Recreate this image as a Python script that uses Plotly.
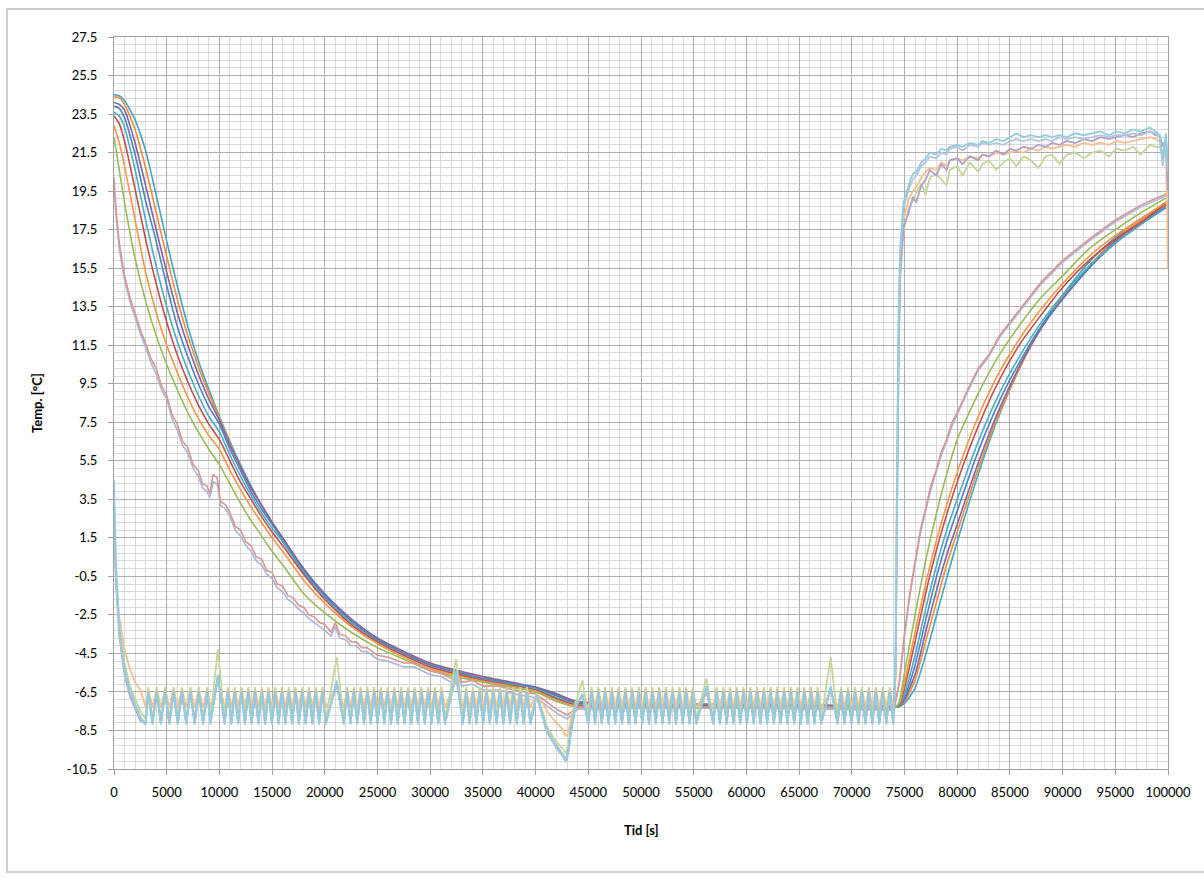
import plotly.graph_objects as go

# ---------------- product sensor curves (shared time base, s) ----------------
t_s = [0, 500, 1000, 2000, 3000, 4000, 5000, 6000, 7000, 8000, 9000, 10000,
       11000, 12000, 13000, 14000, 15000, 16000, 18000, 20000, 22500, 25000,
       27500, 30000, 35000, 40000, 42000, 44000, 50000, 60000, 70000, 74000,
       74500, 75000, 76000, 77000, 78000, 79000, 80000, 82000, 84000, 86000,
       88000, 90000, 92500, 95000, 97500, 100000]

s_green = [22.3, 20.6, 18.9, 16.0, 13.8, 12.0, 10.5, 9.2, 8.0, 7.0, 6.1, 5.3,
           4.3, 3.3, 2.4, 1.6, 0.8, 0.1, -1.4, -2.4, -3.4, -4.2, -4.8, -5.4,
           -6.0, -6.5, -7.0, -7.3, -7.3, -7.3, -7.3, -7.35, -7.0, -5.5, -2.5,
           0.3, 2.7, 4.8, 6.6, 9.0, 11.0, 12.6, 14.0, 15.1, 16.5, 17.5, 18.4, 19.2]
s_orange = [22.9, 22.0, 20.8, 18.0, 15.3, 13.2, 11.5, 10.1, 8.8, 7.7, 6.8, 6.1,
            5.0, 4.0, 3.1, 2.3, 1.5, 0.8, -0.7, -1.9, -3.1, -4.0, -4.7, -5.3,
            -5.95, -6.45, -6.95, -7.25, -7.3, -7.3, -7.3, -7.3, -7.1, -6.0, -3.4,
            -0.9, 1.3, 3.2, 4.9, 7.8, 10.1, 11.9, 13.4, 14.7, 16.1, 17.2, 18.1, 19.0]
s_red = [23.4, 23.0, 22.1, 19.6, 17.0, 14.7, 12.7, 11.0, 9.6, 8.4, 7.4, 6.6,
         5.5, 4.4, 3.5, 2.6, 1.8, 1.1, -0.4, -1.7, -3.0, -3.9, -4.6, -5.2,
         -5.9, -6.4, -6.85, -7.2, -7.25, -7.25, -7.3, -7.3, -7.15, -6.3, -3.9,
         -1.4, 0.8, 2.7, 4.4, 7.3, 9.7, 11.6, 13.1, 14.5, 15.9, 17.0, 17.9, 18.95]
s_cyan = [23.6, 23.4, 22.8, 20.6, 18.0, 15.6, 13.5, 11.7, 10.2, 8.9, 7.8, 7.0,
          5.8, 4.7, 3.7, 2.8, 2.0, 1.3, -0.3, -1.6, -2.9, -3.9, -4.6, -5.2,
          -5.85, -6.35, -6.8, -7.15, -7.2, -7.25, -7.3, -7.3, -7.2, -6.6, -4.6,
          -2.2, 0.0, 1.9, 3.5, 6.5, 9.0, 11.0, 12.7, 14.1, 15.6, 16.8, 17.8, 18.75]
s_blue = [23.9, 23.8, 23.3, 21.4, 19.0, 16.9, 14.6, 12.5, 10.9, 9.5, 8.3, 7.4,
          6.1, 5.0, 3.9, 3.0, 2.2, 1.4, -0.2, -1.5, -2.8, -3.8, -4.5, -5.1,
          -5.8, -6.3, -6.7, -7.1, -7.2, -7.2, -7.25, -7.3, -7.25, -6.8, -5.1,
          -2.8, -0.6, 1.3, 2.9, 6.0, 8.6, 10.7, 12.5, 13.9, 15.5, 16.8, 17.8, 18.7]
s_purple = [24.1, 24.0, 23.7, 22.0, 19.8, 17.5, 15.3, 13.2, 11.5, 10.0, 8.7, 7.6,
            6.3, 5.2, 4.1, 3.2, 2.3, 1.5, -0.1, -1.4, -2.7, -3.7, -4.4, -5.0,
            -5.7, -6.25, -6.6, -7.0, -7.1, -7.15, -7.2, -7.25, -7.25, -6.9, -5.6,
            -3.4, -1.3, 0.6, 2.2, 5.4, 8.2, 10.5, 12.4, 13.9, 15.5, 16.9, 17.9, 18.75]
s_orange2 = [24.4, 24.35, 24.0, 22.7, 20.7, 18.4, 16.1, 13.9, 12.0, 10.4, 9.0, 7.7,
             6.4, 5.2, 4.1, 3.2, 2.3, 1.5, -0.15, -1.45, -2.75, -3.75, -4.45, -5.05,
             -5.75, -6.3, -6.65, -7.05, -7.15, -7.2, -7.25, -7.25, -7.25, -7.0, -5.9,
             -3.9, -1.9, 0.1, 1.8, 5.1, 8.0, 10.4, 12.4, 14.0, 15.6, 17.0, 18.0, 18.85]
s_teal = [24.5, 24.45, 24.2, 23.2, 21.6, 19.3, 16.9, 14.6, 12.5, 10.7, 9.2, 7.8,
          6.5, 5.3, 4.2, 3.2, 2.3, 1.5, -0.2, -1.5, -2.8, -3.8, -4.5, -5.1,
          -5.8, -6.3, -6.7, -7.1, -7.15, -7.2, -7.25, -7.25, -7.25, -7.1, -6.3,
          -4.6, -2.6, -0.6, 1.3, 4.8, 7.9, 10.4, 12.5, 14.1, 15.8, 17.1, 18.1, 18.8]

smooth_series = [s_teal, s_orange2, s_purple, s_blue, s_cyan, s_red, s_orange, s_green]
smooth_colors = ["#43A5C2", "#F28B3C", "#8064A2", "#4F81BD", "#4BACC6",
                 "#C0504D", "#F79646", "#9BBB59"]

# ---------------- surface sensors (faster response, ripple from the compressor) ----------------
t_p = [0, 200, 500, 1000, 1500, 2000, 2500, 3000, 3500, 4000, 4500, 5000, 5500,
       6000, 6500, 7000, 7500, 8000, 8400, 8800, 9100, 9400, 9800, 10100, 10600,
       11000, 11500, 12000, 12500, 13000, 13500, 14000, 14500, 15000, 15500,
       16000, 16500, 17000, 17500, 18000, 18500, 19000, 19500, 20000, 20600,
       21000, 21400, 22000, 22500, 23000, 23500, 24000, 25000, 26000, 27500,
       28500, 30000, 31000, 32000, 32500, 33000, 34000, 35000, 36500, 38000,
       40000, 42000, 43000, 44000, 50000, 60000, 70000, 74000, 74500, 75000,
       75500, 76000, 76500, 77000, 77500, 78000, 78500, 79000, 79500, 80000,
       81000, 82000, 83000, 84000, 86000, 88000, 90000, 92500, 95000, 97500, 100000]
p_pink = [20.2, 18.5, 16.8, 15.1, 14.0, 13.1, 12.3, 11.6, 10.8, 10.3, 9.4, 8.9,
          7.9, 7.4, 6.5, 6.2, 5.3, 5.0, 4.3, 4.2, 3.8, 4.8, 4.6, 3.4, 3.2,
          2.8, 2.1, 1.9, 1.3, 1.1, 0.5, 0.4, -0.2, -0.3, -0.9, -1.0, -1.5,
          -1.6, -2.0, -2.1, -2.5, -2.6, -2.9, -3.0, -3.4, -2.9, -3.5, -3.6,
          -3.9, -3.9, -4.2, -4.2, -4.6, -4.7, -5.0, -5.0, -5.4, -5.5, -5.8,
          -5.4, -6.0, -5.9, -6.2, -6.2, -6.4, -6.6, -7.4, -7.7, -7.3, -7.3,
          -7.3, -7.35, -7.4, -6.0, -3.5, -1.4, 0.3, 1.9, 3.0, 4.2, 5.0, 6.0,
          6.6, 7.5, 8.0, 9.2, 10.3, 11.0, 12.0, 13.4, 14.8, 15.9, 17.0, 18.0,
          18.8, 19.4]
p_lav = [19.8, 18.2, 16.5, 14.9, 13.8, 12.9, 12.1, 11.4, 10.6, 10.0, 9.2, 8.7,
         7.7, 7.1, 6.3, 5.9, 5.1, 4.7, 4.1, 3.9, 3.6, 4.4, 4.3, 3.2, 3.0,
         2.6, 1.9, 1.6, 1.1, 0.8, 0.3, 0.1, -0.4, -0.6, -1.1, -1.3, -1.7,
         -1.9, -2.2, -2.4, -2.7, -2.9, -3.1, -3.3, -3.6, -3.1, -3.7, -3.8,
         -4.1, -4.1, -4.4, -4.4, -4.8, -4.9, -5.2, -5.2, -5.6, -5.7, -6.0,
         -5.6, -6.2, -6.1, -6.4, -6.4, -6.6, -6.8, -7.6, -7.9, -7.4, -7.35,
         -7.35, -7.4, -7.45, -6.1, -3.6, -1.5, 0.2, 1.7, 2.9, 4.0, 4.9, 5.8,
         6.5, 7.3, 7.9, 9.1, 10.2, 10.9, 11.9, 13.3, 14.7, 15.8, 16.9, 17.9,
         18.7, 19.3]

# ---------------- air sensors ----------------
air_start_t = [0, 200, 500, 1000, 1500, 2000, 2500]

cyc_trough_t = [3000, 3650, 4450, 5250, 6050, 6850, 7650, 8450, 9150,
                10500, 11140, 11780, 12420, 13060, 13700, 14340, 14980, 15620,
                16260, 16900, 17540, 18180, 18820, 19460, 20100,
                21800, 22440, 23080, 23720, 24360, 25000, 25640, 26280, 26920,
                27560, 28200, 28840, 29480, 30120, 30760, 31400,
                33100, 33740, 34380, 35020, 35660, 36300, 36940, 37580, 38220,
                38860, 39500,
                45000, 45640, 46280, 46920, 47560, 48200, 48840, 49480, 50120,
                50760, 51400, 52040, 52680, 53320, 53960, 54600, 55240,
                56850, 57490, 58130, 58770, 59410, 60050, 60690, 61330, 61970,
                62610, 63250, 63890, 64530, 65170, 65810, 66450, 67090,
                68650, 69310, 69970, 70630, 71290, 71950, 72610, 73270, 73930]
cyc_peak_t = [3250, 4050, 4850, 5650, 6450, 7250, 8050, 8850,
              10820, 11460, 12100, 12740, 13380, 14020, 14660, 15300, 15940,
              16580, 17220, 17860, 18500, 19140, 19780,
              22120, 22760, 23400, 24040, 24680, 25320, 25960, 26600, 27240,
              27880, 28520, 29160, 29800, 30440, 31080,
              33420, 34060, 34700, 35340, 35980, 36620, 37260, 37900, 38540, 39180,
              45320, 45960, 46600, 47240, 47880, 48520, 49160, 49800, 50440,
              51080, 51720, 52360, 53000, 53640, 54280, 54920,
              57170, 57810, 58450, 59090, 59730, 60370, 61010, 61650, 62290,
              62930, 63570, 64210, 64850, 65490, 66130, 66770,
              68980, 69640, 70300, 70960, 71620, 72280, 72940, 73600]

defrost_t = [9850, 21130, 32450, 44450, 56200, 68000]
dip_t = [40100, 40600, 41000, 41500, 42000, 42500, 42900, 43100, 43400, 43800]
rise_t = [74150, 74300, 74450, 74600, 74900, 75400, 75800, 76100, 76600, 77000,
          77400, 78000, 78500, 79000, 79300, 80000, 80500, 81200, 82000, 82400,
          83000, 83700, 84400, 85000, 85600, 86300, 87000, 87700, 88400, 89000,
          89700, 90400, 91200, 92000, 92800, 93600, 94400, 95100, 95900, 96700,
          97400, 98300, 98800, 99200, 99500, 99800, 100000]

a_orange_start = [1.8, -0.8, -2.6, -4.3, -5.3, -6.0, -6.4]
a_orange_lv = [-6.35, -7.3]
a_orange_def = [-5.9, -6.2, -5.9, -6.8, -6.6, -6.5]
a_orange_dip = [-6.6, -7.0, -7.4, -7.8, -8.1, -8.4, -8.8, -8.6, -7.8, -7.0]
a_orange_rise = [-5.5, 4.0, 12.0, 15.8, 18.0, 19.1, 19.5, 19.7, 20.2, 20.5,
                 20.7, 20.6, 21.0, 20.8, 21.1, 21.2, 21.1, 21.3, 21.2, 21.4,
                 21.3, 21.5, 21.4, 21.5, 21.6, 21.5, 21.7, 21.6, 21.8, 21.7,
                 21.8, 21.9, 21.8, 22.0, 21.9, 22.0, 21.9, 22.1, 22.0, 22.1,
                 22.2, 22.3, 22.2, 22.1, 22.0, 21.9, 15.5]

a_green_start = [2.5, -1.0, -3.0, -5.0, -6.2, -6.9, -7.5]
a_green_lv = [-6.25, -7.9]
a_green_def = [-4.3, -4.7, -4.8, -5.9, -5.8, -4.7]
a_green_dip = [-6.6, -7.4, -8.2, -8.7, -9.1, -9.4, -9.7, -9.2, -8.1, -7.1]
a_green_rise = [-5.8, 3.0, 11.0, 15.0, 17.4, 18.6, 19.0, 19.4, 19.9, 19.3,
                20.2, 20.4, 20.1, 19.8, 20.6, 20.8, 20.3, 21.0, 20.5, 20.9,
                21.1, 20.6, 21.0, 21.2, 20.8, 21.3, 21.1, 20.7, 21.3, 21.4,
                20.9, 21.4, 21.5, 21.2, 21.5, 21.6, 21.3, 21.7, 21.6, 21.8,
                21.4, 21.9, 21.8, 21.8, 21.5, 21.6, 20.0]

a_purple_start = [3.0, -0.8, -3.6, -5.6, -6.7, -7.4, -8.0]
a_purple_lv = [-6.5, -8.1]
a_purple_def = [-5.8, -6.1, -5.6, -6.7, -6.4, -6.3]
a_purple_dip = [-6.7, -7.6, -8.4, -8.9, -9.3, -9.65, -10.0, -9.5, -8.3, -7.2]
a_purple_rise = [-5.5, 3.5, 11.5, 15.3, 17.6, 18.4, 19.2, 18.9, 19.8, 20.1,
                 20.6, 20.3, 20.9, 20.6, 21.1, 21.2, 20.9, 21.3, 21.1, 21.4,
                 21.3, 21.6, 21.4, 21.7, 21.6, 21.8, 21.7, 21.9, 21.8, 22.0,
                 21.9, 22.1, 22.0, 22.2, 22.1, 22.3, 22.2, 22.3, 22.4, 22.3,
                 22.5, 22.6, 22.4, 22.4, 21.8, 22.2, 19.5]

a_steel_start = [3.5, -0.5, -3.4, -5.4, -6.5, -7.2, -7.9]
a_steel_lv = [-6.6, -8.2]
a_steel_def = [-5.7, -6.0, -5.5, -6.6, -6.3, -6.3]
a_steel_dip = [-6.7, -7.7, -8.5, -9.0, -9.45, -9.8, -10.15, -9.7, -8.5, -7.3]
a_steel_rise = [-5.0, 5.0, 13.0, 16.3, 18.6, 19.6, 20.1, 20.3, 20.8, 21.0,
                21.3, 21.2, 21.5, 21.4, 21.7, 21.8, 21.6, 21.9, 21.8, 22.0,
                21.9, 22.0, 21.9, 22.1, 22.2, 22.1, 22.2, 22.1, 22.2, 22.1,
                22.3, 22.2, 22.3, 22.2, 22.3, 22.4, 22.3, 22.4, 22.4, 22.5,
                22.4, 22.6, 22.5, 22.3, 20.8, 22.2, 20.5]

a_blue_start = [4.5, 0.0, -3.2, -5.3, -6.4, -7.1, -7.8]
a_blue_lv = [-6.55, -8.15]
a_blue_def = [-5.6, -5.9, -5.4, -6.6, -6.2, -6.2]
a_blue_dip = [-6.7, -7.6, -8.4, -8.9, -9.35, -9.7, -10.05, -9.6, -8.4, -7.25]
a_blue_rise = [-4.5, 6.0, 13.5, 16.6, 18.9, 19.8, 20.4, 20.5, 21.0, 21.2,
               21.5, 21.4, 21.7, 21.6, 21.8, 21.9, 21.8, 22.0, 21.9, 22.1,
               22.0, 22.2, 22.1, 22.3, 22.5, 22.3, 22.4, 22.3, 22.4, 22.3,
               22.4, 22.3, 22.5, 22.4, 22.5, 22.6, 22.4, 22.6, 22.5, 22.7,
               22.6, 22.8, 22.6, 22.4, 21.2, 22.5, 21.0]

air_sets = [
    ("#F9BE92", a_orange_start, a_orange_lv, a_orange_def, a_orange_dip, a_orange_rise),
    ("#C3D69B", a_green_start, a_green_lv, a_green_def, a_green_dip, a_green_rise),
    ("#B3A2C7", a_purple_start, a_purple_lv, a_purple_def, a_purple_dip, a_purple_rise),
    ("#B4C6DE", a_steel_start, a_steel_lv, a_steel_def, a_steel_dip, a_steel_rise),
    ("#93CDDD", a_blue_start, a_blue_lv, a_blue_def, a_blue_dip, a_blue_rise),
]

y_ticks = [-10.5 + 2 * i for i in range(20)]
x_ticks = [5000 * i for i in range(21)]


def air_points(start_v, levels, def_v, dip_v, rise_v):
    pts = list(zip(air_start_t, start_v))
    pts += [(t, levels[1]) for t in cyc_trough_t]
    pts += [(t, levels[0]) for t in cyc_peak_t]
    pts += list(zip(defrost_t, def_v))
    pts += list(zip(dip_t, dip_v))
    pts += list(zip(rise_t, rise_v))
    pts.sort()
    return [p[0] for p in pts], [p[1] for p in pts]


fig = go.Figure()

for ys, col in zip(smooth_series, smooth_colors):
    fig.add_trace(go.Scatter(x=t_s, y=ys, mode="lines",
                             line=dict(color=col, width=1.6, shape="spline", smoothing=0.6),
                             hoverinfo="skip"))

for ys, col in [(p_lav, "#A9B8DA"), (p_pink, "#D99694")]:
    fig.add_trace(go.Scatter(x=t_p, y=ys, mode="lines",
                             line=dict(color=col, width=1.6),
                             hoverinfo="skip"))

for col, sv, lv, dv, dipv, rv in air_sets:
    xs, ys = air_points(sv, lv, dv, dipv, rv)
    fig.add_trace(go.Scatter(x=xs, y=ys, mode="lines",
                             line=dict(color=col, width=1.8),
                             hoverinfo="skip"))

font = "Lato, 'Open Sans', sans-serif"
fig.update_layout(
    width=1204, height=879,
    margin=dict(l=114, r=36, t=37, b=110),
    paper_bgcolor="white", plot_bgcolor="white",
    showlegend=False,
    font=dict(family=font, size=13, color="#000000"),
    xaxis=dict(range=[0, 100000], tickmode="array", tickvals=x_ticks,
               ticktext=[str(v) for v in x_ticks],
               showgrid=True, gridcolor="#ADADAD", gridwidth=1,
               minor=dict(tickmode="linear", tick0=0, dtick=1000, showgrid=True,
                          gridcolor="#D9D9D9", gridwidth=1),
               ticks="outside", ticklen=5, tickcolor="#A0A0A0",
               showline=True, linecolor="#A0A0A0", linewidth=1, mirror=True,
               zeroline=False, ticklabelstandoff=6,
               tickfont=dict(family=font, size=13, color="#000000")),
    yaxis=dict(range=[-10.5, 27.5], tickmode="array", tickvals=y_ticks,
               ticktext=[f"{v:.1f}" for v in y_ticks],
               showgrid=True, gridcolor="#ADADAD", gridwidth=1,
               minor=dict(tickmode="linear", tick0=-10.5, dtick=0.4, showgrid=True,
                          gridcolor="#D9D9D9", gridwidth=1),
               ticks="outside", ticklen=5, tickcolor="#A0A0A0",
               showline=True, linecolor="#A0A0A0", linewidth=1, mirror=True,
               zeroline=False, ticklabelstandoff=8,
               tickfont=dict(family=font, size=13, color="#000000")),
)

fig.add_annotation(text="<b>Temp. [°C]</b>", xref="paper", yref="paper",
                   x=(37 - 114) / 1054, y=0.5, textangle=-90, showarrow=False,
                   xanchor="center", yanchor="middle",
                   font=dict(family=font, size=13, color="#000000"))
fig.add_annotation(text="<b>Tid [s]</b>", xref="paper", yref="paper",
                   x=0.5, y=(769 - 830) / 732, showarrow=False,
                   xanchor="center", yanchor="middle",
                   font=dict(family=font, size=13, color="#000000"))

# chart-area frame
fig.add_shape(type="rect", xref="paper", yref="paper",
              x0=(7 - 114) / 1054, x1=(1212 - 114) / 1054,
              y0=(769 - 872) / 732, y1=(769 - 9) / 732,
              line=dict(color="#BFBFBF", width=1.5), fillcolor="rgba(0,0,0,0)",
              layer="below")

fig.write_html("out.html")
